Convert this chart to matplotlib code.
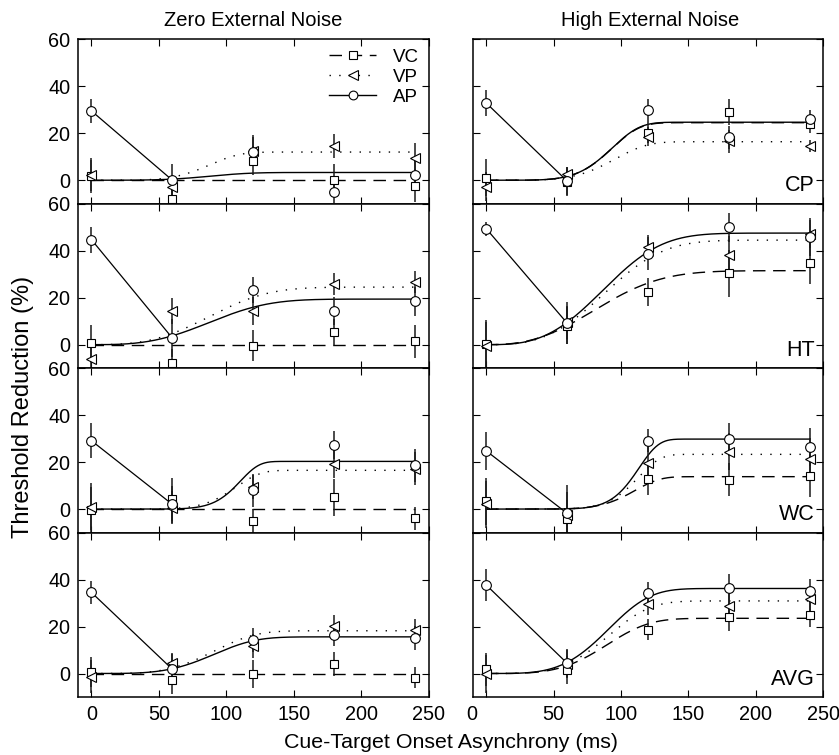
import numpy as np
import matplotlib
matplotlib.use('Agg')
import matplotlib.pyplot as plt
from matplotlib.lines import Line2D
from matplotlib.transforms import ScaledTranslation

plt.rcParams['font.family'] = ['Liberation Sans', 'DejaVu Sans']

# ---------------- data ----------------
soa = [0, 60, 120, 180, 240]
observers = ['CP', 'HT', 'WC', 'AVG']
column_titles = ['Zero External Noise', 'High External Noise']
series_names = ['VC', 'VP', 'AP']

# Zero external noise: rows = CP, HT, WC, AVG
zero_vc = [[1.6, -8.1, 8.4, -0.1, -2.4],
           [0.7, -7.8, -0.4, 5.5, 1.4],
           [-0.4, 4.1, -5.0, 5.0, -4.0],
           [0.7, -2.7, -0.3, 4.0, -1.7]]
zero_vp = [[2.3, -2.7, 12.6, 14.6, 9.4],
           [-6.1, 14.5, 14.5, 25.8, 26.7],
           [0.9, 0.6, 9.5, 19.3, 17.2],
           [-1.4, 4.4, 11.8, 20.4, 18.7]]
zero_ap = [[29.5, 0.0, 12.2, -4.8, 2.3],
           [44.7, 2.8, 23.3, 14.3, 18.4],
           [29.1, 2.0, 8.1, 27.4, 18.7],
           [34.5, 1.8, 14.3, 16.2, 15.2]]
zero_vc_err = [[7, 5, 6, 7, 7], [7.5, 6, 6.7, 5.5, 7], [10, 9, 5, 8, 5], [6.5, 6, 6, 5, 4.5]]
zero_vp_err = [[7, 5, 6.5, 5, 6.5], [5, 5.5, 6, 4.5, 4.8], [10, 7, 5, 6, 7], [7, 4.5, 5, 4.5, 4.5]]
zero_ap_err = [[5, 7, 6, 5, 6], [5.5, 8, 5.5, 6, 6], [7.5, 8, 7, 6, 7], [4.9, 6.5, 5, 4.5, 5]]

# High external noise
high_vc = [[1.1, -0.6, 20.3, 29.2, 24.0],
           [0.4, 8.1, 22.4, 30.4, 34.8],
           [3.4, -4.1, 12.9, 12.5, 14.0],
           [1.8, 1.6, 18.7, 24.0, 25.0]]
high_vp = [[-2.7, 2.7, 18.6, 16.5, 14.7],
           [-0.4, 9.5, 41.6, 38.3, 47.1],
           [2.1, -2.6, 19.7, 24.5, 21.4],
           [-0.3, 4.0, 29.8, 28.8, 31.6]]
high_ap = [[32.9, -0.3, 29.7, 18.2, 26.0],
           [49.4, 9.2, 38.7, 49.9, 45.8],
           [24.8, -1.8, 29.1, 29.8, 26.5],
           [37.7, 4.4, 34.3, 36.2, 35.2]]
high_vc_err = [[8, 6, 4.5, 5.5, 4], [10, 8, 6, 10, 9], [10, 8, 7, 7, 9], [7, 6, 4.5, 6, 5]]
high_vp_err = [[6, 3, 4, 5, 2.5], [10, 7, 5, 8, 6], [10, 10, 8, 8, 9], [8, 6, 5, 5, 5]]
high_ap_err = [[5.5, 6, 5, 5, 4], [3, 9, 7, 6, 8], [8, 12, 5, 7, 8], [7, 6, 4.5, 6, 5]]

# Fitted Weibull curves: (asymptote, scale, shape)
zero_vc_fit = [(0, 100, 3), (0, 100, 3), (0, 100, 3), (0, 100, 3)]
zero_vp_fit = [(12.0, 92, 5), (24.5, 100, 3), (16.5, 110, 7), (18.2, 98, 4)]
zero_ap_fit = [(3.3, 95, 4), (19.4, 100, 3), (20.3, 112, 9), (15.6, 98, 4)]
high_vc_fit = [(24.5, 97, 5.6), (31.5, 96, 2.6), (13.8, 113, 7), (23.5, 97, 3.9)]
high_vp_fit = [(16.4, 100, 5), (44.5, 100, 3), (23.3, 115, 8), (30.9, 98, 4)]
high_ap_fit = [(24.7, 97, 5.6), (47.5, 99, 3), (29.8, 115, 8.8), (36.2, 98, 4)]


def weibull(t, A, lam, k):
    return A * (1 - np.exp(-(t / lam) ** k))


columns = [
    dict(vals=[zero_vc, zero_vp, zero_ap], errs=[zero_vc_err, zero_vp_err, zero_ap_err],
         fits=[zero_vc_fit, zero_vp_fit, zero_ap_fit]),
    dict(vals=[high_vc, high_vp, high_ap], errs=[high_vc_err, high_vp_err, high_ap_err],
         fits=[high_vc_fit, high_vp_fit, high_ap_fit]),
]

styles = [
    dict(ls=(0, (9, 5.5)), marker='s', ms=5.8),
    dict(ls=(0, (1, 6)), marker='<', ms=7.5),
    dict(ls='-', marker='o', ms=7.0),
]

# ---------------- figure ----------------
W, H = 839, 755
fig = plt.figure(figsize=(W / 100, H / 100), dpi=100)
col_left = [78, 472.7]
col_w = 350.5
top, bottom = 39.3, 697
row_h = (bottom - top) / 4

tcurve = np.linspace(soa[0], soa[-1], 400)

for c in range(2):
    col = columns[c]
    for r in range(4):
        ax = fig.add_axes([col_left[c] / W, 1 - (top + (r + 1) * row_h) / H,
                           col_w / W, row_h / H])
        for s in range(3):
            st = styles[s]
            A, lam, k = col['fits'][s][r]
            ax.plot(tcurve, weibull(tcurve, A, lam, k), color='black',
                    ls=st['ls'], lw=1.0, zorder=2)
        # straight AP segment from first to second point
        ap = col['vals'][2][r]
        ax.plot(soa[:2], ap[:2], color='black', lw=0.9, zorder=2)
        for s in range(3):
            st = styles[s]
            v = col['vals'][s][r]
            e = col['errs'][s][r]
            ax.errorbar(soa, v, yerr=e, fmt='none', ecolor='#1a1a1a',
                        elinewidth=1.1, capsize=0, zorder=3)
            ax.plot(soa, v, ls='none', marker=st['marker'], ms=st['ms'],
                    mfc='white', mec='black', mew=0.8, zorder=4, clip_on=False)
        ax.set_xlim(-10, 250)
        ax.set_ylim(-10, 60)
        ax.set_xticks([0, 50, 100, 150, 200, 250])
        ax.set_yticks([0, 20, 40, 60])
        ax.tick_params(direction='in', top=True, right=True, length=5,
                       width=0.8, labelsize=14.3, pad=5.5)
        for sp in ax.spines.values():
            sp.set_linewidth(1.1)
        if c == 1:
            ax.tick_params(labelleft=False)
            ax.text(0.975, 0.045, observers[r], transform=ax.transAxes,
                    ha='right', va='bottom', fontsize=15.5)
        if r < 3:
            ax.tick_params(labelbottom=False)
        if c == 1 and r == 3:
            for lab in ax.get_xticklabels():
                if lab.get_text() == '0':
                    lab.set_transform(lab.get_transform() +
                                      ScaledTranslation(-0.14, 0, fig.dpi_scale_trans))
        if c == 0 and r == 0:
            handles = [Line2D([], [], color='black', ls=styles[s]['ls'], lw=1.0,
                              marker=styles[s]['marker'], ms=styles[s]['ms'] * 0.9,
                              mfc='white', mec='black', mew=0.8)
                       for s in range(3)]
            ax.legend(handles, series_names, loc='upper right', frameon=False,
                      fontsize=13.5, handlelength=2.5, handletextpad=0.9,
                      labelspacing=0.15, borderaxespad=0.3, borderpad=0.2)

fig.text(253 / W, 1 - 21 / H, column_titles[0], ha='center', va='center', fontsize=14.5)
fig.text(650 / W, 1 - 21 / H, column_titles[1], ha='center', va='center', fontsize=14.5)
fig.text(23 / W, 1 - 407 / H, 'Threshold Reduction (%)', rotation=90,
         ha='center', va='center', fontsize=17)
fig.text(451.5 / W, 1 - 743 / H, 'Cue-Target Onset Asynchrony (ms)',
         ha='center', va='center', fontsize=15.4)

fig.savefig('out.png', dpi=100)
